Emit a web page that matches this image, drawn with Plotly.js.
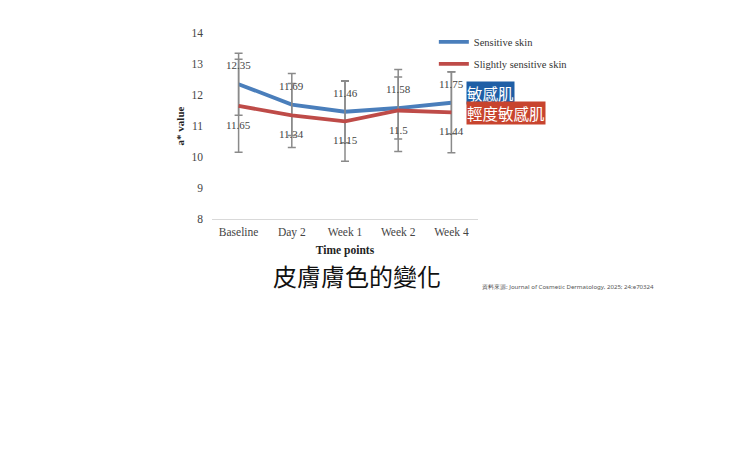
<!DOCTYPE html>
<html>
<head>
<meta charset="utf-8">
<script src="https://cdn.plot.ly/plotly-3.0.1.min.js"></script>
<style>
  html, body { margin: 0; padding: 0; background: #fff; }
  #chart { width: 740px; height: 463px; }
</style>
</head>
<body>
<div id="chart"></div>
<script>
const timePoints = ['Baseline', 'Day 2', 'Week 1', 'Week 2', 'Week 4'];
const sensitive = [12.35, 11.69, 11.46, 11.58, 11.75];
const sensitiveErr = [1.0, 1.0, 1.0, 1.0, 1.0];
const slightly = [11.65, 11.34, 11.15, 11.5, 11.44];
const slightlyErr = [1.5, 1.03, 1.29, 1.32, 1.3];

const serif = 'Liberation Serif, Times New Roman, serif';
const cjk = 'Noto Sans CJK TC, Noto Sans, sans-serif';

const blue = '#4a7ebb';
const red = '#be4b48';
const errColor = '#8a8a8a';

function makeTrace(name, y, err, color, group) {
  return {
    x: timePoints,
    y,
    name,
    legendgroup: group,
    type: 'scatter',
    mode: 'lines',
    line: { color, width: 3.8 },
    error_y: { type: 'data', array: err, visible: true, color: errColor, thickness: 1.5, width: 4 },
    hoverinfo: 'skip'
  };
}

const traces = [
  makeTrace('Sensitive skin', sensitive, sensitiveErr, blue, 'a'),
  makeTrace('Slightly sensitive skin', slightly, slightlyErr, red, 'b')
];

// value labels: sensitive above, slightly below
const annotations = [];
timePoints.forEach((t, i) => {
  annotations.push({
    x: t, y: sensitive[i], xref: 'x', yref: 'y', text: String(sensitive[i]),
    showarrow: false, yshift: 19, font: { family: serif, size: 11, color: '#444' }
  });
  annotations.push({
    x: t, y: slightly[i], xref: 'x', yref: 'y', text: String(slightly[i]),
    showarrow: false, yshift: -19, font: { family: serif, size: 11, color: '#444' }
  });
});

// chinese series tags
annotations.push({
  xref: 'paper', yref: 'paper', x: 1, y: 1, xshift: -12, yshift: -60,
  xanchor: 'left', yanchor: 'middle', text: '敏感肌', showarrow: false,
  bgcolor: '#1f5fa6', borderpad: 0, font: { family: cjk, size: 15.5, color: '#fff' }
});
annotations.push({
  xref: 'paper', yref: 'paper', x: 1, y: 1, xshift: -12, yshift: -80,
  xanchor: 'left', yanchor: 'middle', text: '輕度敏感肌', showarrow: false,
  bgcolor: '#c8442e', borderpad: 0, font: { family: cjk, size: 15.5, color: '#fff' }
});

// caption and source
annotations.push({
  xref: 'paper', yref: 'paper', x: 0.545, y: 0, yshift: -56,
  xanchor: 'center', yanchor: 'middle', text: '皮膚膚色的變化', showarrow: false,
  font: { family: cjk, size: 24, color: '#111' }
});
annotations.push({
  xref: 'paper', yref: 'paper', x: 1, y: 0, xshift: 2, yshift: -67,
  xanchor: 'left', yanchor: 'middle',
  text: '資料來源: Journal of Cosmetic Dermatology, 2025; 24:e70324', showarrow: false,
  font: { family: 'Noto Sans, sans-serif', size: 6.1, color: '#555' }
});

const layout = {
  width: 740,
  height: 463,
  margin: { l: 212, r: 262, t: 33, b: 244 },
  paper_bgcolor: '#fff',
  plot_bgcolor: '#fff',
  showlegend: true,
  legend: {
    x: 0.834, xanchor: 'left', xref: 'paper', y: 1.03, yanchor: 'top',
    traceorder: 'grouped', tracegroupgap: 3,
    font: { family: serif, size: 10.5, color: '#333' },
    bgcolor: 'rgba(0,0,0,0)', itemwidth: 30
  },
  xaxis: {
    type: 'category',
    range: [-0.5, 4.5],
    showline: true, linecolor: '#d9d9d9', linewidth: 1,
    showgrid: false, zeroline: false, ticks: '',
    ticklabelstandoff: 2,
    tickfont: { family: serif, size: 11.5, color: '#444' },
    title: { text: '<b>Time points</b>', font: { family: serif, size: 11.5, color: '#222' }, standoff: 8 },
    automargin: false, fixedrange: true
  },
  yaxis: {
    range: [8, 14],
    dtick: 1,
    showline: false, showgrid: false, zeroline: false, ticks: '',
    ticklabelstandoff: 8,
    tickfont: { family: serif, size: 11.5, color: '#444' },
    title: { text: '<b>a* value</b>', font: { family: serif, size: 11, color: '#222' }, standoff: 4 },
    automargin: false, fixedrange: true
  },
  annotations
};

Plotly.newPlot('chart', traces, layout, { displayModeBar: false, staticPlot: true });
</script>
</body>
</html>
